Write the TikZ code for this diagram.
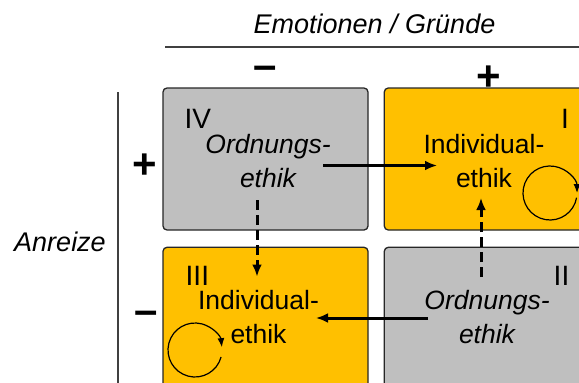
\documentclass[tikz,border=0pt]{standalone}
\usepackage{fontspec}
\setmainfont{Liberation Sans}
\usetikzlibrary{arrows.meta, positioning, calc}

\definecolor{quadgray}{HTML}{BFBFBF}
\definecolor{quadgold}{HTML}{FFC000}

\begin{document}
\begin{tikzpicture}[x=1pt, y=-1pt,
  quad/.style={draw=black!85, line width=1.3pt, rounded corners=4pt, minimum width=205pt, minimum height=142pt, inner sep=0pt},
  lbl/.style={font=\fontsize{26.5}{34}\selectfont, align=center, inner sep=0pt},
  olbl/.style={lbl, font=\fontsize{26.5}{34}\selectfont\itshape},
  num/.style={font=\fontsize{28}{28}\selectfont, inner sep=0pt},
  sgn/.style={font=\fontsize{42}{42}\selectfont\bfseries, inner sep=0pt},
  axis/.style={font=\fontsize{27}{27}\selectfont\itshape, inner sep=0pt},
  rule/.style={draw=black!75, line width=1.2pt},
  flow/.style={line width=3pt, -{Latex[length=12pt,width=10pt]}},
  dashflow/.style={flow, dash pattern=on 10pt off 5pt},
  cyc/.style={line width=1.2pt, -{Latex[length=9pt,width=7pt]}}]
\useasboundingbox (0,0) rectangle (579,383);

% axes
\node[axis, anchor=base] (emo) at (374.5,33) {Emotionen / Gründe};
\draw[rule] (165,47) -- (579,47);
\node[axis] (anr) at (60,242) {Anreize};
\draw[rule] (118,92) -- (118,383);

\node[sgn] (em) at (265,73) {–};
\node[sgn] (ep) at (489,78) {+};
\node[sgn] (ap) at (145,166) {+};
\node[sgn] (am) at (146,318) {–};

% quadrants
\node[quad, fill=quadgray] (q4) at (265.5,159) {};
\node[quad, fill=quadgold, right=15pt of q4] (q1) {};
\node[quad, fill=quadgold, below=16pt of q4] (q3) {};
\node[quad, fill=quadgray, right=15pt of q3] (q2) {};

\node[num, anchor=base west] at (184.5,128) {IV};
\node[num, anchor=base] at (565,128) {I};
\node[num, anchor=base west] at (185.5,285) {III};
\node[num, anchor=base east] at (569.5,285) {II};

\node[olbl] (ord4) at (268,161) {Ordnungs-\\ethik};
\node[lbl] (ind1) at (484,161) {Individual-\\ethik};
\node[lbl] (ind3) at (258.5,317.5) {Individual-\\ethik};
\node[olbl] (ord2) at (487,317.5) {Ordnungs-\\ethik};

% transitions
\draw[flow] ($(ord4.center)+(55,4.5)$) -- ($(ind1.center)+(-47,4.5)$);
\draw[flow] ($(ord2.center)+(-59,0.5)$) -- ($(ind3.center)+(57.5,0.5)$);
\draw[dashflow] ($(ord4.center)+(-11,39)$) -- ($(ind3.center)+(-1.5,-41)$);
\draw[dashflow] ($(ord2.center)+(-6,-40.5)$) -- ($(ind1.center)+(-3,37)$);

% self loops
\draw[cyc] ($(ind1.center)+(66,32)+(10:27)$) arc[start angle=10, end angle=360, radius=27];
\draw[cyc] ($(ind3.center)+(-63.5,32.5)+(15:27)$) arc[start angle=15, end angle=354, radius=27];
\end{tikzpicture}
\end{document}
